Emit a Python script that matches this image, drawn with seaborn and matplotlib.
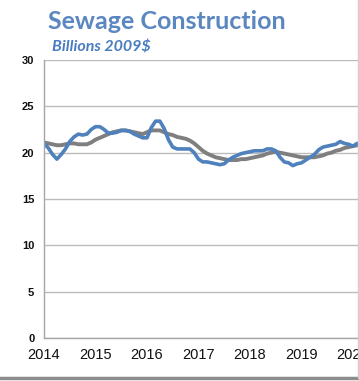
import matplotlib
matplotlib.use("Agg")
import matplotlib.pyplot as plt
import seaborn as sns
import pandas as pd
import numpy as np

# monthly values, Jan 2014 .. Feb 2020 (billions 2009$)
actual = [21.0, 20.5, 19.8, 19.3, 19.8, 20.4, 21.2, 21.7, 22.0, 21.9, 22.0, 22.5,
          22.8, 22.8, 22.5, 22.1, 22.1, 22.2, 22.4, 22.4, 22.3, 22.0, 21.8, 21.6,
          21.6, 22.7, 23.4, 23.4, 22.6, 21.4, 20.6, 20.4, 20.4, 20.4, 20.4, 20.0,
          19.3, 19.0, 19.0, 18.9, 18.8, 18.7, 18.8, 19.2, 19.5, 19.7, 19.9, 20.0,
          20.1, 20.2, 20.2, 20.2, 20.4, 20.4, 20.2, 19.5, 19.0, 18.9, 18.6, 18.8,
          18.9, 19.2, 19.5, 19.8, 20.3, 20.6, 20.7, 20.8, 20.9, 21.2, 21.0, 20.9,
          20.7, 21.0]
trend = [21.1, 21.0, 20.9, 20.8, 20.8, 20.9, 21.0, 21.0, 20.9, 20.9, 20.9, 21.1,
         21.4, 21.6, 21.8, 22.0, 22.2, 22.3, 22.4, 22.4, 22.3, 22.2, 22.1, 22.0,
         22.2, 22.4, 22.4, 22.4, 22.2, 22.0, 21.9, 21.7, 21.6, 21.5, 21.3, 21.0,
         20.6, 20.2, 19.9, 19.7, 19.5, 19.4, 19.3, 19.2, 19.2, 19.2, 19.3, 19.3,
         19.4, 19.5, 19.6, 19.7, 19.9, 20.0, 20.1, 20.0, 19.9, 19.8, 19.7, 19.6,
         19.5, 19.5, 19.5, 19.5, 19.6, 19.7, 19.9, 20.0, 20.2, 20.3, 20.5, 20.6,
         20.7, 20.8]
years = [2014, 2015, 2016, 2017, 2018, 2019, 2020]
yticks = [0, 5, 10, 15, 20, 25, 30]

t = 2014 + np.arange(len(actual)) / 12
df = pd.DataFrame({"t": t, "actual": actual, "trend": trend})

sns.set_style("white")
plt.rcParams["font.family"] = ["Liberation Sans", "DejaVu Sans"]

fig = plt.figure(figsize=(3.59, 3.81), dpi=100)
ax = fig.add_axes([0.1226, 0.1129, 1.004, 0.7297])

sns.lineplot(data=df, x="t", y="trend", color="#7f7f7f", lw=2.8, ax=ax)
sns.lineplot(data=df, x="t", y="actual", color="#4f81bd", lw=2.6, ax=ax)

ax.set_xlim(2014, 2021)
ax.set_ylim(0, 30)
ax.set_xticks(years)
ax.set_xticks([y + 0.5 for y in years], minor=True)
ax.set_xticklabels([str(y) for y in years], fontsize=10.5, color="#111111")
ax.set_yticks(yticks)
ax.set_yticklabels([str(v) for v in yticks], fontsize=8, fontweight="bold", color="#111111")
ax.grid(axis="y", color="#bcbcbc", lw=1)
ax.set_axisbelow(True)
ax.tick_params(axis="both", which="both", direction="out", length=4, width=1,
               color="#aaaaaa", pad=3)
ax.tick_params(axis="x", which="minor", length=3)
for s in ["top", "right"]:
    ax.spines[s].set_visible(False)
for s in ["left", "bottom"]:
    ax.spines[s].set_color("#a6a6a6")
    ax.spines[s].set_linewidth(1)
ax.set_xlabel("")
ax.set_ylabel("")

fig.text(0.134, 0.925, "Sewage Construction", fontsize=18, fontweight="bold",
         color="#5b87c0", family=["Lato", "DejaVu Sans"], va="baseline")
fig.text(0.145, 0.865, "Billions 2009$", fontsize=11.5, fontweight="bold", style="italic",
         color="#4a7cc0", family=["Lato", "DejaVu Sans"], va="baseline")

# panel frame edges
fig.add_artist(plt.Line2D([0, 1], [0.008, 0.008], transform=fig.transFigure,
                          color="#8c8c8c", lw=2.5))
fig.add_artist(plt.Line2D([0.996, 0.996], [0.008, 1], transform=fig.transFigure,
                          color="#cfcfcf", lw=1))

fig.savefig("out.png", dpi=100)
